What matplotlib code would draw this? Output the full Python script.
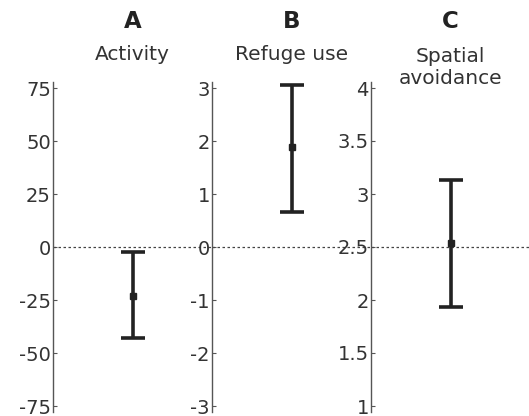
import matplotlib.pyplot as plt

plt.rcParams['font.family'] = ['DejaVu Sans']

# panel data
letters = ['A', 'B', 'C']
titles = ['Activity', 'Refuge use', 'Spatial\navoidance']
means = [-23.0, 1.89, 2.54]
lower = [-43.0, 0.66, 1.93]
upper = [-2.4, 3.06, 3.13]
ref_lines = [0, 0, 2.5]
ylims = [(-75, 75), (-3, 3), (1, 4)]
yticks = [[-75, -50, -25, 0, 25, 50, 75],
          [-3, -2, -1, 0, 1, 2, 3],
          [1, 1.5, 2, 2.5, 3, 3.5, 4]]
yticklabels = [['-75', '-50', '-25', '0', '25', '50', '75'],
               ['-3', '-2', '-1', '0', '1', '2', '3'],
               ['1', '1.5', '2', '2.5', '3', '3.5', '4']]

fig = plt.figure(figsize=(5.29, 4.16), dpi=100)
lefts = [53 / 529, 212 / 529, 371 / 529]
w = 159 / 529
bottom = 1 - 412 / 416
height = (412 - 82) / 416

for i in range(3):
    ax = fig.add_axes([lefts[i], bottom, w, height])
    lo, hi = ylims[i]
    pad = (hi - lo) * 6 / 318
    ax.set_ylim(lo - pad, hi + pad)
    ax.set_xlim(0, 2)
    ax.axhline(ref_lines[i], color='#444444', lw=0.9, ls=(0, (2, 2)))
    ax.errorbar([1], [means[i]],
                yerr=[[means[i] - lower[i]], [upper[i] - means[i]]],
                fmt='s', color='#222222', ms=5, lw=2.6, capsize=8.3, capthick=2.6)
    for s in ['top', 'right', 'bottom']:
        ax.spines[s].set_visible(False)
    ax.spines['left'].set_color('#555555')
    ax.spines['left'].set_linewidth(1.0)
    ax.set_xticks([])
    ax.set_yticks(yticks[i])
    ax.set_yticklabels(yticklabels[i])
    ax.tick_params(axis='y', direction='in', length=3, width=0.8, pad=1.5,
                   labelsize=14, colors='#555555', labelcolor='#333333')
    ax.patch.set_alpha(0)
    cx = lefts[i] + w / 2
    fig.text(cx, 1 - 22 / 416, letters[i], ha='center', va='center',
             fontsize=16.5, fontweight='bold', color='#222222')
    if '\n' in titles[i]:
        fig.text(cx, 1 - 68 / 416, titles[i], ha='center', va='center',
                 fontsize=14.5, color='#333333', linespacing=1.2)
    else:
        fig.text(cx, 1 - 55 / 416, titles[i], ha='center', va='center',
                 fontsize=14.5, color='#333333')

fig.savefig('out.png', dpi=100)
